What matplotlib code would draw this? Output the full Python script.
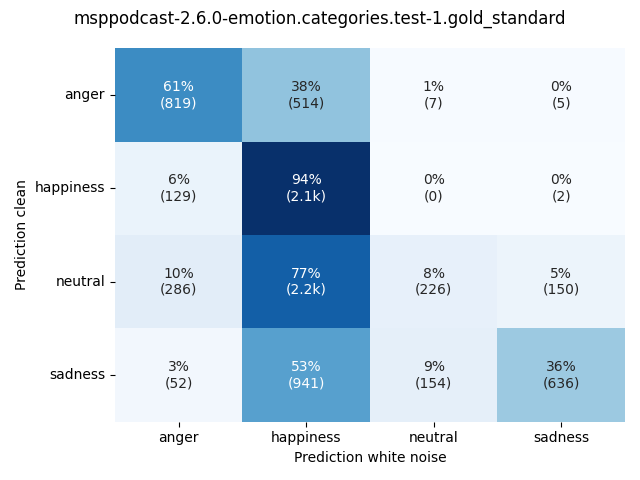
import matplotlib
matplotlib.use("Agg")
import matplotlib.pyplot as plt
import numpy as np
import seaborn as sns

labels = ["anger", "happiness", "neutral", "sadness"]
# counts per row (rows: clean prediction, cols: white noise prediction)
counts_anger = [819, 514, 7, 5]
counts_happiness = [129, 2060, 0, 2]
counts_neutral = [286, 2216, 226, 150]
counts_sadness = [52, 941, 154, 636]
title = "msppodcast-2.6.0-emotion.categories.test-1.gold_standard"


def fmt_count(c):
    if c >= 1000:
        return "%.1fk" % (c / 1000.0)
    return "%d" % c


cm = np.array([counts_anger, counts_happiness, counts_neutral, counts_sadness], float)
pct = cm / cm.sum(axis=1, keepdims=True) * 100.0
annot = np.array([["%d%%\n(%s)" % (round(p), fmt_count(c)) for p, c in zip(pr, cr)]
                  for pr, cr in zip(pct, cm)])

fig, ax = plt.subplots(figsize=(6.4, 4.8), dpi=100)
sns.heatmap(pct, annot=annot, fmt="", cmap="Blues", cbar=False,
            xticklabels=labels, yticklabels=labels, ax=ax)
ax.set_yticklabels(labels, rotation=0)
ax.set_xlabel("Prediction white noise")
ax.set_ylabel("Prediction clean")
fig.suptitle(title)
fig.tight_layout()
fig.savefig("out.png", dpi=100)
